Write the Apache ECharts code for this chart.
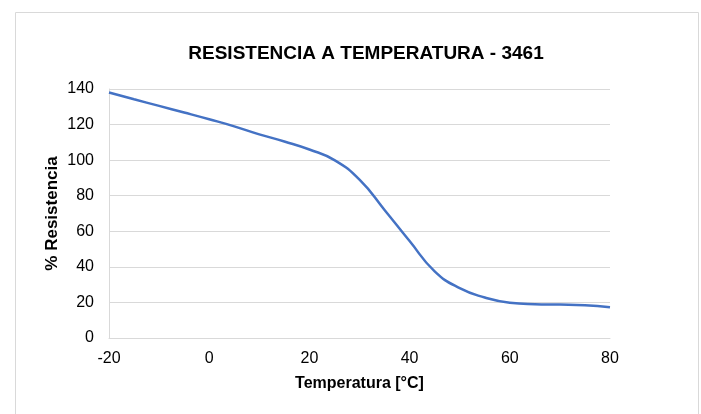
<!DOCTYPE html>
<html><head><meta charset="utf-8">
<script src="https://cdn.jsdelivr.net/npm/echarts@6/dist/echarts.min.js"></script>
<style>html,body{margin:0;padding:0;background:#fff}#c{width:701px;height:414px}</style>
</head><body><div id="c"></div>
<script>
const temps = [-20,-15,-10,-5,0,5,10,15,20,25,30,35,40,45,50,55,60,65,70,75,80];
const resist = [138,134.2,130.5,126.8,123,119,114.5,110.5,106,100,89,72,54.5,37.5,28,22.8,19.8,19,18.8,18.4,17.3];
const xTicks = [-20,0,20,40,60,80];
const yTicks = [0,20,40,60,80,100,120,140];

const chart = echarts.init(document.getElementById('c'));
const font = 'Arial, "Liberation Sans", sans-serif';
chart.setOption({
  animation: false,
  graphic: [{type:'rect', shape:{x:15.5,y:12.5,width:683,height:420}, style:{fill:'none', stroke:'#d9d9d9', lineWidth:1}, silent:true}],
  title: {text:'RESISTENCIA A TEMPERATURA - 3461', left:361, top:39, textAlign:'center',
    textStyle:{fontFamily:font, fontSize:19, fontWeight:'bold', color:'#000'}},
  grid: {left:109, right:91, top:89, bottom:76},
  xAxis: {type:'value', min:xTicks[0], max:xTicks[xTicks.length-1], interval:20,
    name:'Temperatura [°C]', nameLocation:'middle', nameGap:38, nameMoveOverlap:false,
    nameTextStyle:{fontFamily:font, fontSize:16, fontWeight:'bold', color:'#000'},
    axisLine:{show:true, onZero:false, lineStyle:{color:'#d9d9d9', width:1}},
    axisTick:{show:false}, splitLine:{show:false},
    axisLabel:{fontFamily:font, fontSize:16, color:'#000', margin:13}},
  yAxis: {type:'value', min:yTicks[0], max:yTicks[yTicks.length-1], interval:20,
    name:'% Resistencia', nameLocation:'middle', nameGap:48, nameMoveOverlap:false,
    nameTextStyle:{fontFamily:font, fontSize:17, fontWeight:'bold', color:'#000'},
    axisLine:{show:true, onZero:false, lineStyle:{color:'#d9d9d9', width:1}},
    axisTick:{show:false},
    splitLine:{show:true, lineStyle:{color:'#d9d9d9', width:1}},
    axisLabel:{fontFamily:font, fontSize:16, color:'#000', margin:15}},
  series: [{type:'line', data: temps.map((t,i)=>[t, resist[i]]), smooth:0.5, smoothConstraint:false, showSymbol:false,
    lineStyle:{color:'#4472C4', width:2.5}}]
});
</script></body></html>
